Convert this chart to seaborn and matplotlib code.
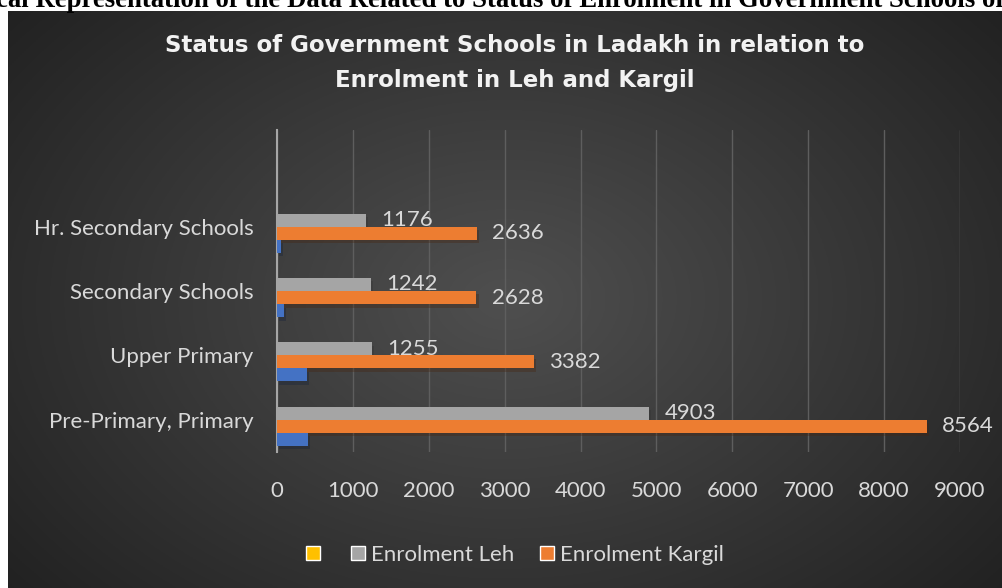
import matplotlib.pyplot as plt
import matplotlib.patheffects as pe
from matplotlib.patches import Patch
from matplotlib.colors import to_hex
import numpy as np
import pandas as pd
import seaborn as sns

# chart values
categories = ["Hr. Secondary Schools", "Secondary Schools", "Upper Primary", "Pre-Primary, Primary"]
enrol_leh = [1176, 1242, 1255, 4903]
enrol_kargil = [2636, 2628, 3382, 8564]
blue_series = [57, 96, 399, 412]  # unnamed series, not in the legend
series_names = ["Blank", "Enrolment Leh", "Enrolment Kargil", "Schools"]
series_colors = ["#ffc000", "#a5a5a5", "#ed7d31", "#4472c4"]
legend_labels = ["", "Enrolment Leh", "Enrolment Kargil"]
x_ticks = [0, 1000, 2000, 3000, 4000, 5000, 6000, 7000, 8000, 9000]

df = pd.DataFrame({
    "category": categories * 3,
    "series": ["Enrolment Leh"] * 4 + ["Enrolment Kargil"] * 4 + ["Schools"] * 4,
    "value": enrol_leh + enrol_kargil + blue_series,
})

sns.set_style("dark")
plt.rcParams['font.family'] = ['Lato', 'DejaVu Sans']
txt_col = "#d9d9d9"
fs = 16

fig = plt.figure(figsize=(10.03, 5.88), dpi=100)
fig.patch.set_facecolor("white")

# dark radial background panel
bg = fig.add_axes([8 / 1003, 0, 995 / 1003, 577 / 588], zorder=0)
yy, xx = np.mgrid[0:1:300j, 0:1:500j]
r = np.sqrt(((xx - 0.5) / 0.62) ** 2 + ((yy - 0.5) / 0.75) ** 2)
shade = np.clip(0.31 - 0.17 * r, 0.13, 0.31)
bg.imshow(np.dstack([shade] * 3), aspect="auto", extent=[0, 1, 0, 1])
bg.set_axis_off()

# cropped caption from the page above the chart
fig.text(-0.004, 1 - 7 / 588, "cal Representation of the Data Related to Status of Enrolment in Government Schools of",
         family="Liberation Serif", fontweight="bold", fontsize=19.3, color="black", va="baseline", ha="left")

ax = fig.add_axes([277 / 1003, 1 - 452 / 588, 683 / 1003, 322 / 588], zorder=1)
ax.set_facecolor("none")
sns.barplot(data=df, y="category", x="value", hue="series", order=categories,
            hue_order=series_names, palette=dict(zip(series_names, series_colors)),
            width=0.81, saturation=1, linewidth=0, legend=False, ax=ax, zorder=3)

ax.set_xlim(0, 9000)
ax.set_ylim(3.5, -1.5)
ax.set_xticks(x_ticks)
ax.set_xticklabels([str(t) for t in x_ticks])
ax.grid(axis="x", color="#5e5e5e", lw=1)
ax.grid(axis="y", visible=False)
ax.set_axisbelow(True)
for s in ["top", "right", "bottom"]:
    ax.spines[s].set_visible(False)
ax.spines["left"].set_color("#a6a6a6")
ax.spines["left"].set_linewidth(1.5)
ax.tick_params(axis="x", length=0, pad=21, labelsize=fs, labelcolor=txt_col)
ax.tick_params(axis="y", length=0, pad=17, labelsize=fs, labelcolor=txt_col)
ax.set_xlabel("")
ax.set_ylabel("")

for p in ax.patches:
    p.set_path_effects([pe.SimplePatchShadow(offset=(1.5, -2.5), alpha=0.35), pe.Normal()])

for cont in ax.containers:
    if len(cont.patches) == 0:
        continue
    col = to_hex(cont.patches[0].get_facecolor())
    if col in ("#a5a5a5", "#ed7d31"):
        ax.bar_label(cont, fmt="%g", padding=11, color=txt_col, fontsize=fs)

fig.text(515 / 1003, 1 - 63 / 588,
         "Status of Government Schools in Ladakh in relation to\nEnrolment in Leh and Kargil",
         ha="center", va="center", fontsize=16.5, fontweight="bold", color="#f2f2f2",
         linespacing=1.7, family="DejaVu Sans")

handles = [Patch(facecolor=c) for c in series_colors[:3]]
fig.legend(handles, legend_labels, loc="center", bbox_to_anchor=(515 / 1003, 1 - 555 / 588),
           ncol=3, frameon=False, handlelength=0.63, handleheight=0.63, handletextpad=0.27,
           columnspacing=1.15, labelcolor=txt_col, fontsize=fs)

fig.savefig("out.png", dpi=100)
